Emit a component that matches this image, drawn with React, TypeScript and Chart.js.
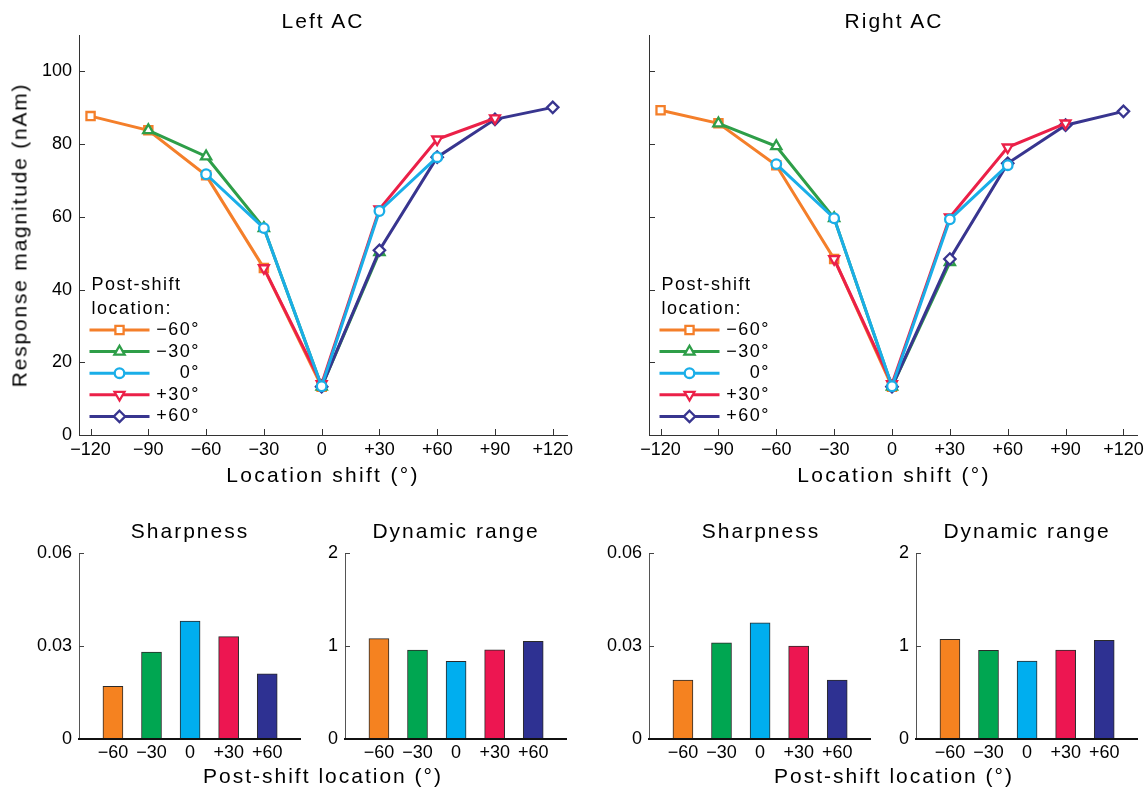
import React, { useEffect, useRef } from 'react';
import { Chart, registerables } from 'chart.js';

Chart.register(...registerables);

const FONT = "'Liberation Sans', Arial, Helvetica, sans-serif";

// ---------------- data ----------------
const shiftTicks = [-120, -90, -60, -30, 0, 30, 60, 90, 120];
const shiftTickLabels = ['−120', '−90', '−60', '−30', '0', '+30', '+60', '+90', '+120'];
const magnitudeTicks = [0, 20, 40, 60, 80, 100];
const magnitudeTickLabels = ['0', '20', '40', '60', '80', '100'];
const postShiftLabels = ['−60°', '−30°', '0°', '+30°', '+60°'];
const barCategoryLabels = ['−60', '−30', '0', '+30', '+60'];
const barPositions = [1, 2, 3, 4, 5];

// location shifts covered by each post-shift series
const shiftsM60 = [-120, -90, -60, -30, 0];
const shiftsM30 = [-90, -60, -30, 0, 30];
const shifts0 = [-60, -30, 0, 30, 60];
const shiftsP30 = [-30, 0, 30, 60, 90];
const shiftsP60 = [0, 30, 60, 90, 120];

// Left AC response magnitude (nAm)
const leftM60 = [87.7, 83.8, 71.4, 45.9, 13.3];
const leftM30 = [83.8, 76.6, 56.9, 13.3, 50.3];
const left0 = [71.7, 56.9, 13.4, 61.6, 76.4];
const leftP30 = [45.9, 14.0, 62.1, 81.3, 87.1];
const leftP60 = [13.3, 50.8, 76.4, 86.8, 90.1];

// Right AC response magnitude (nAm)
const rightM60 = [89.3, 85.7, 74.2, 48.4, 13.3];
const rightM30 = [85.7, 79.4, 59.6, 13.3, 47.5];
const right0 = [74.5, 59.6, 13.4, 59.3, 74.2];
const rightP30 = [48.4, 14.0, 59.9, 79.1, 85.7];
const rightP60 = [13.3, 48.4, 74.7, 85.2, 89.0];

const sharpnessTicks = [0, 0.03, 0.06];
const sharpnessTickLabels = ['0', '0.03', '0.06'];
const rangeTicks = [0, 1, 2];
const rangeTickLabels = ['0', '1', '2'];

const sharpnessLeft = [0.017, 0.028, 0.038, 0.033, 0.021];
const rangeLeft = [1.08, 0.955, 0.835, 0.958, 1.05];
const sharpnessRight = [0.019, 0.031, 0.0375, 0.030, 0.019];
const rangeRight = [1.072, 0.953, 0.838, 0.957, 1.062];

// ---------------- styles ----------------
const lineColors = ['#F47F2A', '#2E9E48', '#1AAEE8', '#EB2048', '#38358F'];
const barColors = ['#F58220', '#00A651', '#00AEEF', '#ED1651', '#2E3192'];
const markerStyles = ['rect', 'triangle', 'circle', 'triangle', 'rectRot'];
const markerRotations = [0, 0, 0, 180, 0];
const markerRadii = [5.8, 5.9, 4.8, 5.7, 5.7];
const drawOrder = [4, 3, 0, 1, 2];

function drawMarker(ctx: CanvasRenderingContext2D, style: string, rot: number, x: number, y: number, r: number) {
  ctx.beginPath();
  if (style === 'circle') {
    ctx.arc(x, y, r, 0, Math.PI * 2);
  } else if (style === 'rect') {
    const s = r * Math.SQRT1_2;
    ctx.rect(x - s, y - s, 2 * s, 2 * s);
  } else if (style === 'rectRot') {
    ctx.moveTo(x, y - r);
    ctx.lineTo(x + r, y);
    ctx.lineTo(x, y + r);
    ctx.lineTo(x - r, y);
    ctx.closePath();
  } else {
    let a = (rot * Math.PI) / 180;
    ctx.moveTo(x + Math.sin(a) * r, y - Math.cos(a) * r);
    a += (2 * Math.PI) / 3;
    ctx.lineTo(x + Math.sin(a) * r, y - Math.cos(a) * r);
    a += (2 * Math.PI) / 3;
    ctx.lineTo(x + Math.sin(a) * r, y - Math.cos(a) * r);
    ctx.closePath();
  }
  ctx.fill();
  ctx.stroke();
}

const inwardTicks = {
  id: 'inwardTicks',
  beforeDatasetsDraw(chart: any, _args: any, opts: any) {
    const { ctx, chartArea } = chart;
    ctx.save();
    ctx.strokeStyle = opts.color || '#333';
    ctx.lineWidth = 1;
    const len = opts.len || 6;
    if (opts.y) {
      const ys = chart.scales.y;
      ys.ticks.forEach((t: any) => {
        const p = Math.round(ys.getPixelForValue(t.value)) + 0.5;
        ctx.beginPath();
        ctx.moveTo(chartArea.left, p);
        ctx.lineTo(chartArea.left + len, p);
        ctx.stroke();
      });
    }
    if (opts.x) {
      const xs = chart.scales.x;
      xs.ticks.forEach((t: any) => {
        const p = Math.round(xs.getPixelForValue(t.value)) + 0.5;
        ctx.beginPath();
        ctx.moveTo(p, chartArea.bottom);
        ctx.lineTo(p, chartArea.bottom - len);
        ctx.stroke();
      });
    }
    ctx.restore();
  },
};

const innerLegend = {
  id: 'innerLegend',
  afterDatasetsDraw(chart: any) {
    const { ctx, chartArea } = chart;
    const x0 = chartArea.left;
    const y0 = chartArea.top;
    ctx.save();
    ctx.font = `18px ${FONT}`;
    (ctx as any).letterSpacing = '1.5px';
    ctx.fillStyle = '#000';
    ctx.textBaseline = 'middle';
    ctx.textAlign = 'left';
    ctx.fillText('Post-shift', x0 + 12.5, y0 + 250);
    ctx.fillText('location:', x0 + 12.5, y0 + 274);
    postShiftLabels.forEach((lab, i) => {
      const y = y0 + 295 + i * 21.6;
      ctx.strokeStyle = lineColors[i];
      ctx.lineWidth = 3;
      ctx.beginPath();
      ctx.moveTo(x0 + 10.5, y);
      ctx.lineTo(x0 + 70.5, y);
      ctx.stroke();
      ctx.fillStyle = '#fff';
      ctx.lineWidth = 2.3;
      drawMarker(ctx, markerStyles[i], markerRotations[i], x0 + 40.5, y, markerRadii[i]);
      ctx.fillStyle = '#000';
      ctx.textAlign = 'right';
      ctx.fillText(lab, x0 + 121, y);
    });
    ctx.restore();
  },
};

const tickFont = { family: FONT, size: 18 };

function lineConfig(series: number[][], showYLabels: boolean, yAxisWidth: number, padRight: number) {
  const xs = [shiftsM60, shiftsM30, shifts0, shiftsP30, shiftsP60];
  return {
    type: 'line',
    data: {
      datasets: series.map((vals, i) => ({
        label: postShiftLabels[i],
        data: vals.map((v, j) => ({ x: xs[i][j], y: v })),
        borderColor: lineColors[i],
        backgroundColor: '#fff',
        borderWidth: 3,
        pointStyle: markerStyles[i],
        pointRotation: markerRotations[i],
        pointRadius: markerRadii[i],
        pointBorderWidth: 2.3,
        pointBackgroundColor: '#fff',
        pointBorderColor: lineColors[i],
        order: drawOrder[i],
        tension: 0,
        fill: false,
      })),
    },
    options: {
      animation: false,
      responsive: false,
      events: [],
      layout: { padding: { top: 35, right: padRight, left: 0, bottom: 0 } },
      plugins: {
        legend: { display: false },
        tooltip: { enabled: false },
        inwardTicks: { x: true, y: true, len: 6, color: '#333' },
      },
      scales: {
        x: {
          type: 'linear',
          min: -126,
          max: 127.4,
          offset: false,
          grid: { display: false, drawTicks: false },
          border: { display: true, color: '#333', width: 1 },
          afterBuildTicks: (s: any) => {
            s.ticks = shiftTicks.map((v) => ({ value: v }));
          },
          afterFit: (s: any) => {
            s.height = 35;
          },
          ticks: {
            padding: 4,
            autoSkip: false,
            maxRotation: 0,
            font: tickFont,
            color: '#000',
            callback: (_v: any, i: number) => shiftTickLabels[i],
          },
        },
        y: {
          type: 'linear',
          min: 0,
          max: 110,
          grid: { display: false, drawTicks: false },
          border: { display: true, color: '#333', width: 1 },
          afterBuildTicks: (s: any) => {
            s.ticks = magnitudeTicks.map((v) => ({ value: v }));
          },
          afterFit: (s: any) => {
            s.width = yAxisWidth;
          },
          ticks: {
            display: showYLabels,
            padding: 7,
            font: tickFont,
            color: '#000',
            callback: (_v: any, i: number) => magnitudeTickLabels[i],
          },
        },
      },
    },
    plugins: [inwardTicks, innerLegend],
  };
}

function barConfig(values: number[], yTicks: number[], yTickLabels: string[], yMax: number, yAxisWidth: number, padRight: number) {
  return {
    type: 'bar',
    data: {
      datasets: [
        {
          data: barPositions.map((p, i) => ({ x: p, y: values[i] })),
          backgroundColor: barColors,
          borderColor: '#2a2a2a',
          borderWidth: 1,
          barThickness: 20,
        },
      ],
    },
    options: {
      animation: false,
      responsive: false,
      events: [],
      layout: { padding: { top: 18, right: padRight, left: 0, bottom: 0 } },
      plugins: {
        legend: { display: false },
        tooltip: { enabled: false },
        inwardTicks: { y: true, len: 5, color: '#444' },
      },
      scales: {
        x: {
          type: 'linear',
          min: 0.12,
          max: 5.85,
          offset: false,
          grid: { display: false, drawTicks: false },
          border: { display: true, color: '#111', width: 2, z: 1 },
          afterBuildTicks: (s: any) => {
            s.ticks = barPositions.map((v) => ({ value: v }));
          },
          afterFit: (s: any) => {
            s.height = 30;
          },
          ticks: {
            padding: 3,
            autoSkip: false,
            maxRotation: 0,
            font: tickFont,
            color: '#000',
            callback: (_v: any, i: number) => barCategoryLabels[i],
          },
        },
        y: {
          type: 'linear',
          min: 0,
          max: yMax,
          grid: { display: false, drawTicks: false },
          border: { display: true, color: '#555', width: 1 },
          afterBuildTicks: (s: any) => {
            s.ticks = yTicks.map((v) => ({ value: v }));
          },
          afterFit: (s: any) => {
            s.width = yAxisWidth;
          },
          ticks: {
            padding: 7,
            font: tickFont,
            color: '#000',
            callback: (_v: any, i: number) => yTickLabels[i],
          },
        },
      },
    },
    plugins: [inwardTicks],
  };
}

function ChartCanvas(props: { left: number; top: number; width: number; height: number; make: () => any }) {
  const ref = useRef<HTMLCanvasElement>(null);
  useEffect(() => {
    const chart = new Chart(ref.current as HTMLCanvasElement, props.make());
    return () => chart.destroy();
  }, []);
  return (
    <canvas
      ref={ref}
      width={props.width}
      height={props.height}
      style={{ position: 'absolute', left: props.left, top: props.top, width: props.width, height: props.height }}
    />
  );
}

function Label(props: { x: number; y: number; text: string; rotate?: boolean; spacing?: number }) {
  return (
    <div
      style={{
        position: 'absolute',
        left: props.x,
        top: props.y,
        transform: `translate(-50%, -50%)${props.rotate ? ' rotate(-90deg)' : ''}`,
        whiteSpace: 'nowrap',
        fontFamily: FONT,
        fontSize: 21,
        lineHeight: 1,
        letterSpacing: `${props.spacing ?? 2}px`,
        color: '#000',
      }}
    >
      {props.text}
    </div>
  );
}

export default function App() {
  const leftSeries = [leftM60, leftM30, left0, leftP30, leftP60];
  const rightSeries = [rightM60, rightM30, right0, rightP30, rightP60];
  return (
    <div style={{ position: 'absolute', left: 0, top: 0, width: 1148, height: 788, background: '#fff', overflow: 'hidden' }}>
      <ChartCanvas left={0} top={0} width={590} height={470} make={() => lineConfig(leftSeries, true, 79, 23)} />
      <ChartCanvas left={570} top={0} width={578} height={470} make={() => lineConfig(rightSeries, false, 79, 10)} />

      <ChartCanvas left={0} top={535} width={312} height={234} make={() => barConfig(sharpnessLeft, sharpnessTicks, sharpnessTickLabels, 0.06, 79, 12)} />
      <ChartCanvas left={305} top={535} width={273} height={234} make={() => barConfig(rangeLeft, rangeTicks, rangeTickLabels, 2, 40, 12)} />
      <ChartCanvas left={589} top={535} width={293} height={234} make={() => barConfig(sharpnessRight, sharpnessTicks, sharpnessTickLabels, 0.06, 60, 12)} />
      <ChartCanvas left={876} top={535} width={272} height={234} make={() => barConfig(rangeRight, rangeTicks, rangeTickLabels, 2, 40, 11)} />

      <Label x={323} y={20} text="Left AC" />
      <Label x={894} y={20} text="Right AC" />
      <Label x={323} y={474} text="Location shift (°)" spacing={2.3} />
      <Label x={894} y={474} text="Location shift (°)" spacing={2.3} />
      <Label x={19} y={235} text="Response magnitude (nAm)" rotate spacing={1.8} />

      <Label x={190} y={530} text="Sharpness" />
      <Label x={456} y={530} text="Dynamic range" />
      <Label x={761} y={530} text="Sharpness" />
      <Label x={1027} y={530} text="Dynamic range" />
      <Label x={323} y={775} text="Post-shift location (°)" />
      <Label x={894} y={775} text="Post-shift location (°)" />
    </div>
  );
}
